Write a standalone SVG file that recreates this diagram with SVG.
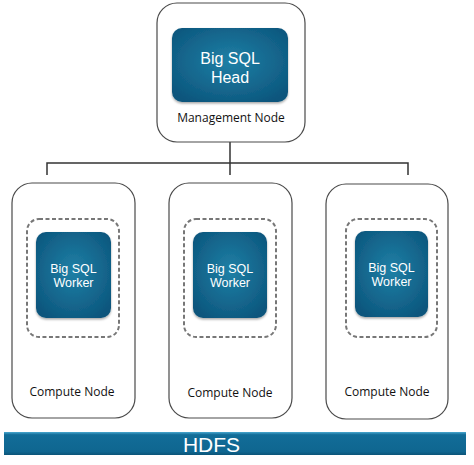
<svg xmlns="http://www.w3.org/2000/svg" width="474" height="465" viewBox="0 0 474 465">
<defs>
<radialGradient id="blue" cx="50%" cy="45%" r="65%">
<stop offset="0" stop-color="#1f80a6"/>
<stop offset="1" stop-color="#0c557c"/>
</radialGradient>
<linearGradient id="bar" x1="0" y1="0" x2="0" y2="1">
<stop offset="0" stop-color="#4aa8d0"/>
<stop offset="0.12" stop-color="#126d98"/>
<stop offset="0.85" stop-color="#0f6690"/>
<stop offset="1" stop-color="#0b5478"/>
</linearGradient>
<filter id="sh" x="-10%" y="-10%" width="120%" height="125%">
<feDropShadow dx="0" dy="1.5" stdDeviation="1.2" flood-color="#000" flood-opacity="0.35"/>
</filter>
</defs>
<style>
.outer{fill:#fff;stroke:#4a4a4a;stroke-width:1.2}
.dash{fill:none;stroke:#777;stroke-width:2;stroke-dasharray:4 2.5}
.box{fill:url(#blue);filter:url(#sh)}
.wt{font-family:"Liberation Sans",Arial,sans-serif;font-size:12.5px;fill:#fff;text-anchor:middle}
.ht{font-family:"Liberation Sans",Arial,sans-serif;font-size:16px;fill:#fff;text-anchor:middle}
.lbl{font-family:"Open Sans","DejaVu Sans",sans-serif;font-size:12px;fill:#111;text-anchor:middle}
.conn{fill:none;stroke:#333;stroke-width:1.5}
</style>
<rect x="0" y="0" width="474" height="465" fill="#fff"/>
<g id="connectors">
<path class="conn" d="M230 142 V175 M47 175 V163 H408 V175"/>
</g>
<g id="management">
<rect class="outer" x="157" y="3" width="148" height="139" rx="20"/>
<rect class="box" x="172" y="28" width="116" height="74" rx="10"/>
<text class="ht" x="230" y="64">Big SQL</text>
<text class="ht" x="230" y="83">Head</text>
<text class="lbl" x="231" y="122">Management Node</text>
</g>
<g id="compute1">
<rect class="outer" x="12" y="183" width="123" height="235" rx="20"/>
<rect class="dash" x="27" y="219" width="92" height="118" rx="12"/>
<rect class="box" x="36" y="232" width="75" height="86" rx="10"/>
<text class="wt" x="73.5" y="273">Big SQL</text>
<text class="wt" x="73.5" y="287">Worker</text>
<text class="lbl" x="72" y="396">Compute Node</text>
</g>
<g id="compute2">
<rect class="outer" x="169" y="183" width="123" height="235" rx="20"/>
<rect class="dash" x="184" y="219" width="92" height="118" rx="12"/>
<rect class="box" x="193" y="232" width="74" height="86" rx="10"/>
<text class="wt" x="230" y="273">Big SQL</text>
<text class="wt" x="230" y="287">Worker</text>
<text class="lbl" x="230" y="397">Compute Node</text>
</g>
<g id="compute3">
<rect class="outer" x="326" y="184" width="122" height="235" rx="20"/>
<rect class="dash" x="346" y="219" width="91" height="118" rx="12"/>
<rect class="box" x="355" y="231" width="73" height="86" rx="10"/>
<text class="wt" x="391.5" y="272">Big SQL</text>
<text class="wt" x="391.5" y="286">Worker</text>
<text class="lbl" x="387" y="396">Compute Node</text>
</g>
<g id="hdfs">
<rect x="4" y="432" width="462" height="23" fill="url(#bar)"/>
<text x="211.5" y="452" font-family="'Liberation Sans',Arial,sans-serif" font-size="21" fill="#fff" text-anchor="middle">HDFS</text>
</g>
</svg>
